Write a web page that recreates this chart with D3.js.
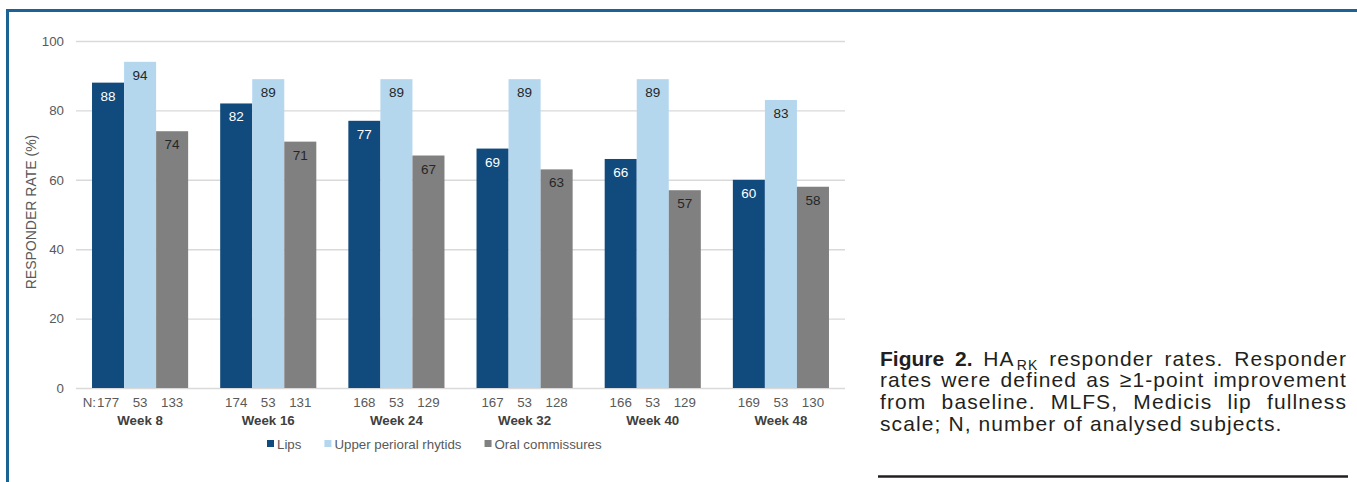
<!DOCTYPE html>
<html><head><meta charset="utf-8">
<script src="https://cdn.jsdelivr.net/npm/d3@7"></script>
<style>body{margin:0;background:#fff;} svg{display:block;font-family:"Liberation Sans",Arial,Helvetica,sans-serif;}</style>
</head><body><svg id="c" width="1357" height="482"></svg>
<script>
const weeks = ["Week 8","Week 16","Week 24","Week 32","Week 40","Week 48"];
const seriesNames = ["Lips","Upper perioral rhytids","Oral commissures"];
const lips = [88,82,77,69,66,60];
const upper = [94,89,89,89,89,83];
const oral = [74,71,67,63,57,58];
const nLips = [177,174,168,167,166,169];
const nUpper = [53,53,53,53,53,53];
const nOral = [133,131,129,128,129,130];
const yTicks = [0,20,40,60,80,100];
const yTitle = "RESPONDER RATE (%)";
const colors = ["#114a7c","#b4d7ee","#808080"];
const labelColors = ["#ffffff","#262626","#262626"];

const values = [lips, upper, oral];
const ns = [nLips, nUpper, nOral];

const svg = d3.select("#c");
svg.append("rect").attr("width",1357).attr("height",482).attr("fill","#fff");

// frame
svg.append("path").attr("d","M7.5 600 V10.5 H1400").attr("fill","none")
  .attr("stroke","#1b6394").attr("stroke-width",3);

const L = 76, R = 845, T = 41, B = 388;
const x0 = d3.scaleBand().domain(weeks).range([L,R]).paddingInner(0.25).paddingOuter(0.125);
const x1 = d3.scaleBand().domain(seriesNames).range([0,x0.bandwidth()]);
const y = d3.scaleLinear().domain([0,100]).range([B,T]);

// grid + y axis
const ax = svg.append("g").attr("transform",`translate(${L},0)`)
  .call(d3.axisLeft(y).tickValues(yTicks).tickSizeInner(-(R-L)).tickSizeOuter(0).tickPadding(12));
ax.select(".domain").remove();
ax.selectAll(".tick line").attr("stroke","#d9d9d9").attr("stroke-width",1.4);
ax.selectAll(".tick text").attr("fill","#595959").attr("font-size","13.3px")
  .attr("font-family","Liberation Sans, Arial, sans-serif");

// y title
svg.append("text").attr("transform","translate(36,212) rotate(-90)")
  .attr("text-anchor","middle").attr("font-size","14px").attr("fill","#595959").text(yTitle);

// bars
const rows = [];
weeks.forEach((w,i)=>seriesNames.forEach((s,j)=>rows.push({w,s,j,v:values[j][i],n:ns[j][i]})));
svg.append("g").selectAll("rect").data(rows).join("rect")
  .attr("x",d=>x0(d.w)+x1(d.s)).attr("width",x1.bandwidth())
  .attr("y",d=>y(d.v)).attr("height",d=>y(0)-y(d.v)).attr("fill",d=>colors[d.j]);

svg.append("g").selectAll("text").data(rows).join("text")
  .attr("x",d=>x0(d.w)+x1(d.s)+x1.bandwidth()/2).attr("y",d=>y(d.v)+18)
  .attr("text-anchor","middle").attr("font-size","13.5px").attr("fill",d=>labelColors[d.j])
  .text(d=>d.v);

// N labels
const nl = svg.append("g").selectAll("text").data(rows).join("text")
  .attr("x",d=>x0(d.w)+x1(d.s)+x1.bandwidth()/2).attr("y",407)
  .attr("text-anchor","middle").attr("font-size","13.3px").attr("fill","#595959")
  .text(d=>d.n);
const first = nl.nodes()[0];
const fw = first.getComputedTextLength();
const fx = x0(weeks[0])+x1(seriesNames[0])+x1.bandwidth()/2 - fw/2;
svg.append("text").attr("x",fx-1).attr("y",407).attr("text-anchor","end")
  .attr("font-size","13.3px").attr("fill","#595959").text("N:");

// week labels
svg.append("g").selectAll("text").data(weeks).join("text")
  .attr("x",d=>x0(d)+x0.bandwidth()/2).attr("y",425).attr("text-anchor","middle")
  .attr("font-size","13.3px").attr("font-weight","bold").attr("fill","#404040").text(d=>d);

// legend
let lx = 267;
seriesNames.forEach((s,j)=>{
  svg.append("rect").attr("x",lx).attr("y",440).attr("width",7).attr("height",7).attr("fill",colors[j]);
  const t = svg.append("text").attr("x",lx+10).attr("y",448.5).attr("font-size","13.3px")
    .attr("fill","#595959").text(s);
  lx = lx + 10 + t.node().getComputedTextLength() + 23;
});

// caption
const capLines = [
  [[{t:"Figure",b:1}],[{t:"2.",b:1}],[{t:"HA"},{t:"RK",sub:1}],[{t:"responder"}],[{t:"rates."}],[{t:"Responder"}]],
  [[{t:"rates"}],[{t:"were"}],[{t:"defined"}],[{t:"as"}],[{t:"\u22651-point"}],[{t:"improvement"}]],
  [[{t:"from"}],[{t:"baseline."}],[{t:"MLFS,"}],[{t:"Medicis"}],[{t:"lip"}],[{t:"fullness"}]],
  [[{t:"scale;"}],[{t:"N,"}],[{t:"number"}],[{t:"of"}],[{t:"analysed"}],[{t:"subjects."}]]
];
const cx0 = 880, cx1 = 1347, cy0 = 365.5, clh = 21.8, cfs = 21, ls = 1.1;
const cap = svg.append("g").attr("fill","#231f20");
capLines.forEach((line,li)=>{
  const by = cy0+li*clh;
  const words = line.map(word=>{
    const g = cap.append("g");
    let w = 0;
    word.forEach((seg,k)=>{
      const t = g.append("text").attr("x",w).attr("y",by + (seg.sub?4:0))
        .attr("font-size",(seg.sub?14:cfs)+"px").text(seg.t);
      if (seg.b) t.attr("font-weight","bold");
      else t.attr("letter-spacing",ls+"px");
      w += t.node().getComputedTextLength() + (k < word.length-1 ? 2 : 0);
    });
    return {g,w};
  });
  const sum = d3.sum(words,d=>d.w);
  const last = li===capLines.length-1;
  const gap = last ? 0.278*cfs+ls : (cx1-cx0-sum)/(words.length-1);
  let x = cx0;
  words.forEach(o=>{ o.g.attr("transform",`translate(${x},0)`); x += o.w+gap; });
});
svg.append("line").attr("x1",878).attr("x2",1348).attr("y1",476.5).attr("y2",476.5)
  .attr("stroke","#231f20").attr("stroke-width",2.5);
</script></body></html>
